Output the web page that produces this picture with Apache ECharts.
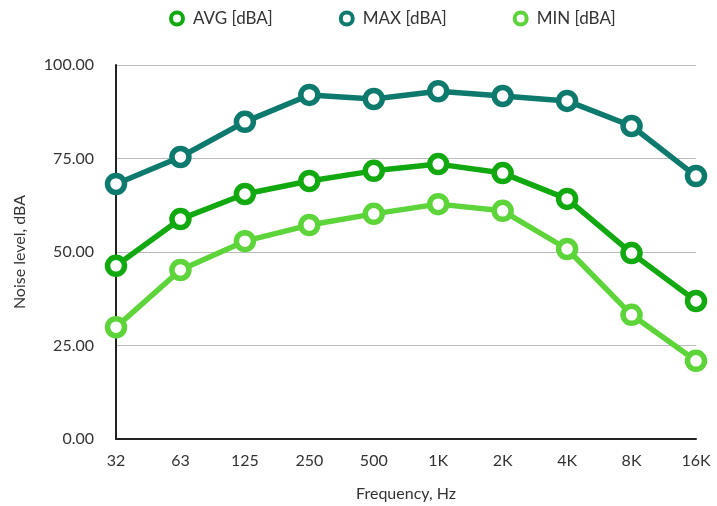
<!DOCTYPE html>
<html>
<head>
<meta charset="utf-8">
<script src="https://cdn.jsdelivr.net/npm/echarts@6/dist/echarts.min.js"></script>
<style>
  html, body { margin: 0; padding: 0; background: #fff; }
  #chart { width: 717px; height: 506px; }
</style>
</head>
<body>
<div id="chart"></div>
<script>
var frequencies = ['32', '63', '125', '250', '500', '1K', '2K', '4K', '8K', '16K'];
var avgValues = [46.3, 58.8, 65.5, 69.0, 71.7, 73.5, 71.1, 64.2, 49.7, 36.9];
var maxValues = [68.2, 75.4, 84.8, 92.0, 90.9, 93.0, 91.7, 90.4, 83.7, 70.3];
var minValues = [29.9, 45.2, 52.9, 57.2, 60.2, 62.8, 61.0, 50.8, 33.2, 20.9];

var chart = echarts.init(document.getElementById('chart'));

function lineSeries(name, data, color) {
  return {
    name: name,
    type: 'line',
    data: data,
    symbol: 'circle',
    symbolSize: 17,
    lineStyle: { color: color, width: 5.5 },
    itemStyle: { color: '#fff', borderColor: color, borderWidth: 5.5 },
    emphasis: { disabled: true }
  };
}

var option = {
  animation: false,
  textStyle: { fontFamily: 'Lato' },
  legend: {
    top: 5,
    left: 164,
    itemGap: 66,
    itemWidth: 22,
    itemHeight: 12,
    textStyle: { fontSize: 17, color: '#333', fontFamily: 'Lato' },
    data: [
      { name: 'AVG [dBA]', icon: 'circle', itemStyle: { color: '#fff', borderColor: '#12a80f', borderWidth: 4 } },
      { name: 'MAX [dBA]', icon: 'circle', itemStyle: { color: '#fff', borderColor: '#0e7a6e', borderWidth: 4 } },
      { name: 'MIN [dBA]', icon: 'circle', itemStyle: { color: '#fff', borderColor: '#5dd43a', borderWidth: 4 } }
    ]
  },
  grid: { left: 116, right: 21, top: 65, bottom: 67, outerBoundsMode: 'none' },
  xAxis: {
    type: 'category',
    data: frequencies,
    boundaryGap: false,
    name: 'Frequency, Hz',
    nameLocation: 'middle',
    nameGap: 47,
    nameTextStyle: { fontSize: 16, color: '#333' },
    axisLine: { lineStyle: { color: '#222', width: 2 } },
    axisTick: { show: false },
    axisLabel: { fontSize: 16, color: '#333', margin: 14 }
  },
  yAxis: {
    type: 'value',
    min: 0,
    max: 100,
    interval: 25,
    name: 'Noise level, dBA',
    nameLocation: 'middle',
    nameGap: 88,
    nameTextStyle: { fontSize: 16, color: '#333' },
    axisLine: { show: true, lineStyle: { color: '#222', width: 2 } },
    axisTick: { show: false },
    axisLabel: {
      fontSize: 16,
      color: '#333',
      margin: 22,
      formatter: function (v) { return v.toFixed(2); }
    },
    splitLine: { lineStyle: { color: '#bbb', width: 1 } }
  },
  series: [
    lineSeries('AVG [dBA]', avgValues, '#12a80f'),
    lineSeries('MAX [dBA]', maxValues, '#0e7a6e'),
    lineSeries('MIN [dBA]', minValues, '#5dd43a')
  ]
};

chart.setOption(option);
</script>
</body>
</html>
